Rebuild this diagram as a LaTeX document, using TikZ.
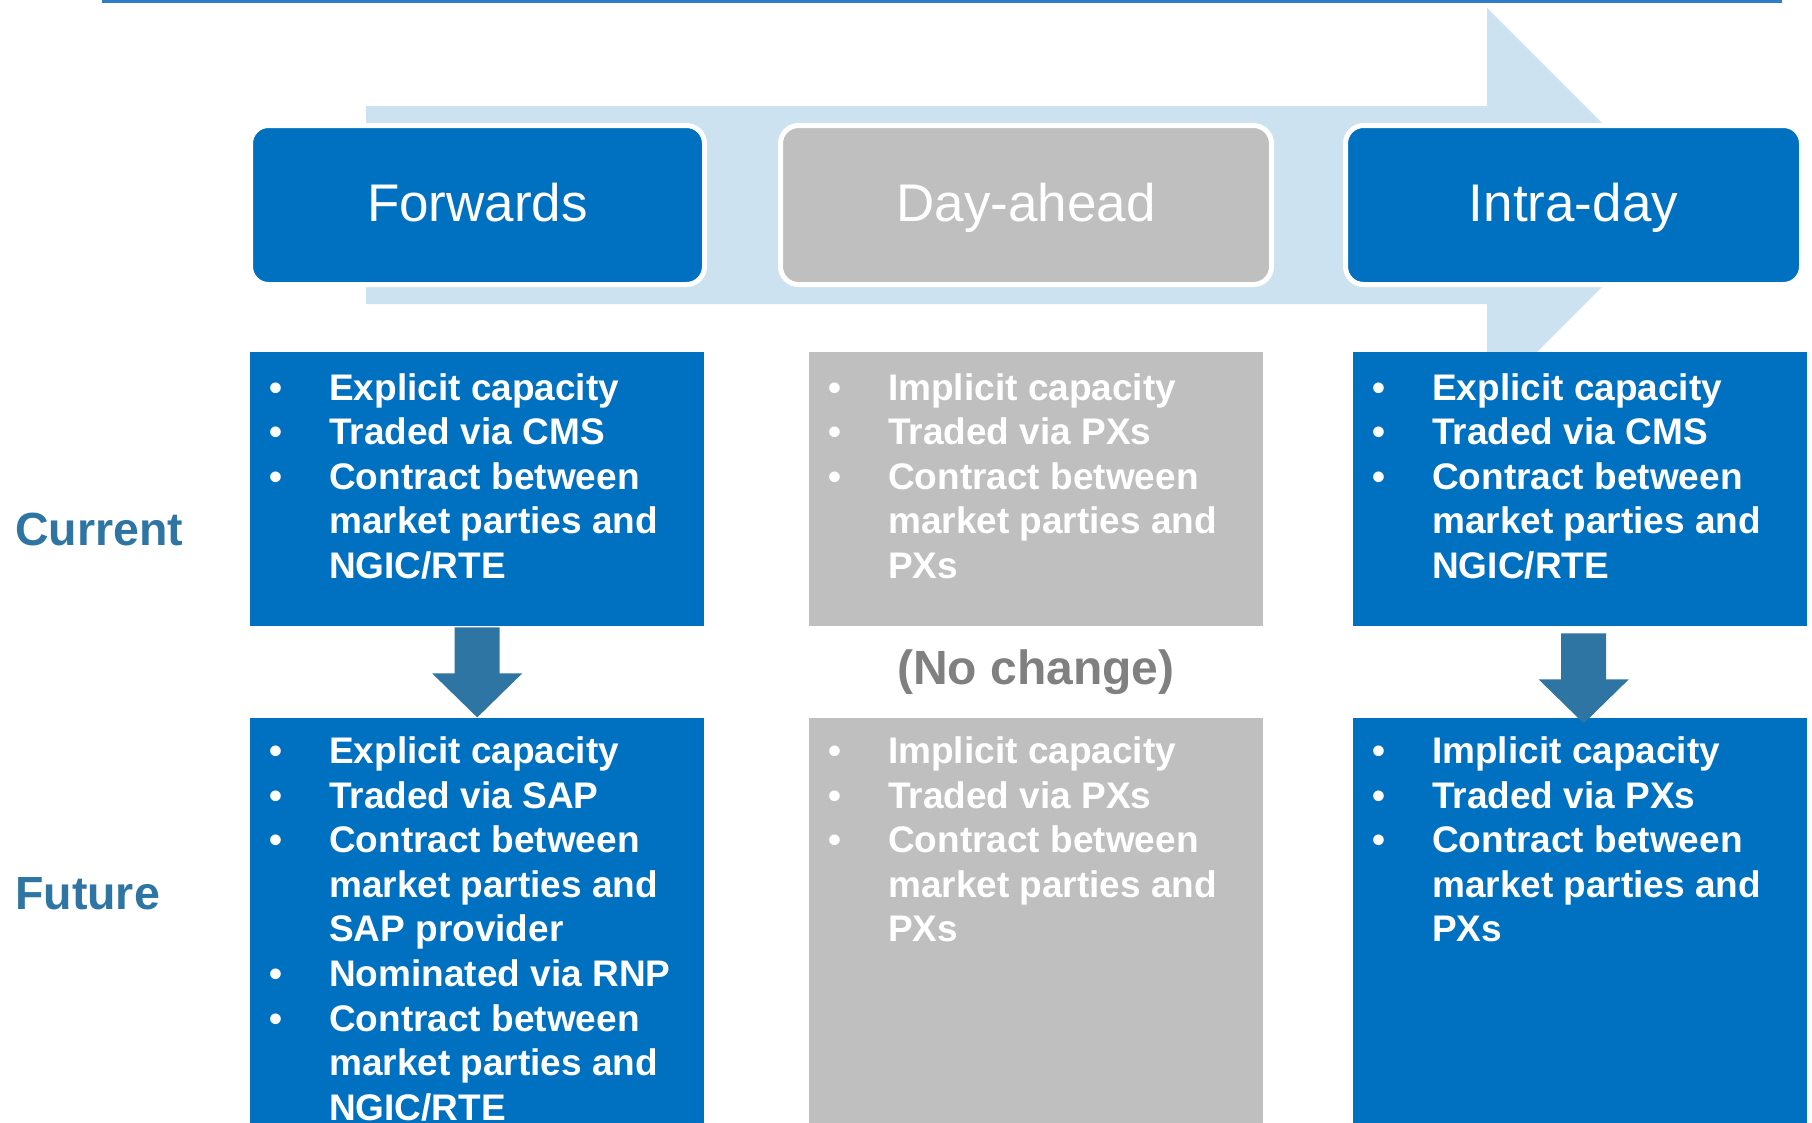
\documentclass[tikz,border=0pt]{standalone}
\usepackage{fontspec}
\setmainfont{Liberation Sans}
\usepackage{tikz}
\usetikzlibrary{positioning,calc}
\definecolor{boxblue}{RGB}{0,112,192}
\definecolor{boxgrey}{RGB}{191,191,191}
\definecolor{flowblue}{RGB}{204,226,240}
\definecolor{stepteal}{RGB}{46,117,163}
\definecolor{ruleblue}{RGB}{47,125,200}
\definecolor{notegrey}{RGB}{128,128,128}
\newcommand{\bul}{\makebox[60pt][l]{\textbullet}}
\newcommand{\cnt}{\hspace*{60pt}}

\begin{document}
\begin{tikzpicture}[x=1pt,y=-1pt,
    phase/.style={rounded corners=18pt, draw=white, line width=5pt, inner sep=0pt,
      minimum height=159pt, text=white, font=\fontsize{53}{60}\selectfont,
      text height=38pt, text depth=6pt},
    panel/.style={anchor=north west, inner sep=0pt, minimum width=454pt, minimum height=274pt},
    listtext/.style={anchor=base west, inner sep=0pt, text=white,
      font=\fontsize{37}{44.6}\selectfont\bfseries},
    rowlabel/.style={anchor=base west, inner sep=0pt, text=stepteal,
      font=\fontsize{46.5}{50}\selectfont\bfseries}]
  \useasboundingbox (0,0) rectangle (1812,1122);
  \clip (0,0) rectangle (1812,1122);

  \draw[ruleblue, line width=2.5pt] (102,1.25) -- (1782,1.25);
  \fill[flowblue] (366,106) -- (1487,106) -- (1487,8) -- (1684,205)
    -- (1487,402) -- (1487,304) -- (366,304) -- cycle;

  \node[phase, fill=boxblue, minimum width=454pt] (fwd) at (477.5,205) {Forwards};
  \node[phase, fill=boxgrey, minimum width=491pt] (dah) at (1026,205) {Day-ahead};
  \node[phase, fill=boxblue, minimum width=456pt] (intra) at (1573.5,205) {Intra-day};

  \node[panel, fill=boxblue] (fwdNow) at (250,352) {};
  \node[panel, fill=boxgrey] (dahNow) at (809,352) {};
  \node[panel, fill=boxblue] (intraNow) at (1353,352) {};

  \node[panel, fill=boxblue, below=91pt of fwdNow, minimum height=420pt] (fwdFut) {};
  \node[panel, fill=boxgrey, below=91pt of dahNow, minimum height=420pt] (dahFut) {};
  \node[panel, fill=boxblue, below=91pt of intraNow, minimum height=420pt] (intraFut) {};

  \node[rowlabel] (curLabel) at (15,545) {Current};
  \node[rowlabel] (futLabel) at (15,909) {Future};
  \node[anchor=base, inner sep=0pt, text=notegrey, font=\fontsize{48}{50}\selectfont\bfseries]
    (nochange) at (1036,684) {(No change)};

  \fill[stepteal] ($(fwdNow.south)+(-22.5,1)$) -- ($(fwdNow.south)+(22.5,1)$)
    -- ($(fwdFut.north)+(22.5,-44)$) -- ($(fwdFut.north)+(45,-44)$) -- (fwdFut.north)
    -- ($(fwdFut.north)+(-45,-44)$) -- ($(fwdFut.north)+(-22.5,-44)$) -- cycle;
  \fill[stepteal] ($(intraNow.south)+(-19,7)$) -- ($(intraNow.south)+(26,7)$)
    -- ($(intraFut.north)+(26,-38)$) -- ($(intraFut.north)+(48.5,-38)$) -- ($(intraFut.north)+(3.5,6)$)
    -- ($(intraFut.north)+(-41.5,-38)$) -- ($(intraFut.north)+(-19,-38)$) -- cycle;

  \node[listtext] (fwdNowList) at ($(fwdNow.north west)+(19,48)$) {\begin{tabular}[t]{@{}l@{}}
    \bul Explicit capacity\\ \bul Traded via CMS\\ \bul Contract between\\
    \cnt market parties and\\ \cnt NGIC/RTE\end{tabular}};
  \node[listtext] (dahNowList) at ($(dahNow.north west)+(19,48)$) {\begin{tabular}[t]{@{}l@{}}
    \bul Implicit capacity\\ \bul Traded via PXs\\ \bul Contract between\\
    \cnt market parties and\\ \cnt PXs\end{tabular}};
  \node[listtext] (intraNowList) at ($(intraNow.north west)+(19,48)$) {\begin{tabular}[t]{@{}l@{}}
    \bul Explicit capacity\\ \bul Traded via CMS\\ \bul Contract between\\
    \cnt market parties and\\ \cnt NGIC/RTE\end{tabular}};

  \node[listtext] (fwdFutList) at ($(fwdFut.north west)+(19,46)$) {\begin{tabular}[t]{@{}l@{}}
    \bul Explicit capacity\\ \bul Traded via SAP\\ \bul Contract between\\
    \cnt market parties and\\ \cnt SAP provider\\ \bul Nominated via RNP\\
    \bul Contract between\\ \cnt market parties and\\ \cnt NGIC/RTE\end{tabular}};
  \node[listtext] (dahFutList) at ($(dahFut.north west)+(19,46)$) {\begin{tabular}[t]{@{}l@{}}
    \bul Implicit capacity\\ \bul Traded via PXs\\ \bul Contract between\\
    \cnt market parties and\\ \cnt PXs\end{tabular}};
  \node[listtext] (intraFutList) at ($(intraFut.north west)+(19,46)$) {\begin{tabular}[t]{@{}l@{}}
    \bul Implicit capacity\\ \bul Traded via PXs\\ \bul Contract between\\
    \cnt market parties and\\ \cnt PXs\end{tabular}};
\end{tikzpicture}
\end{document}
